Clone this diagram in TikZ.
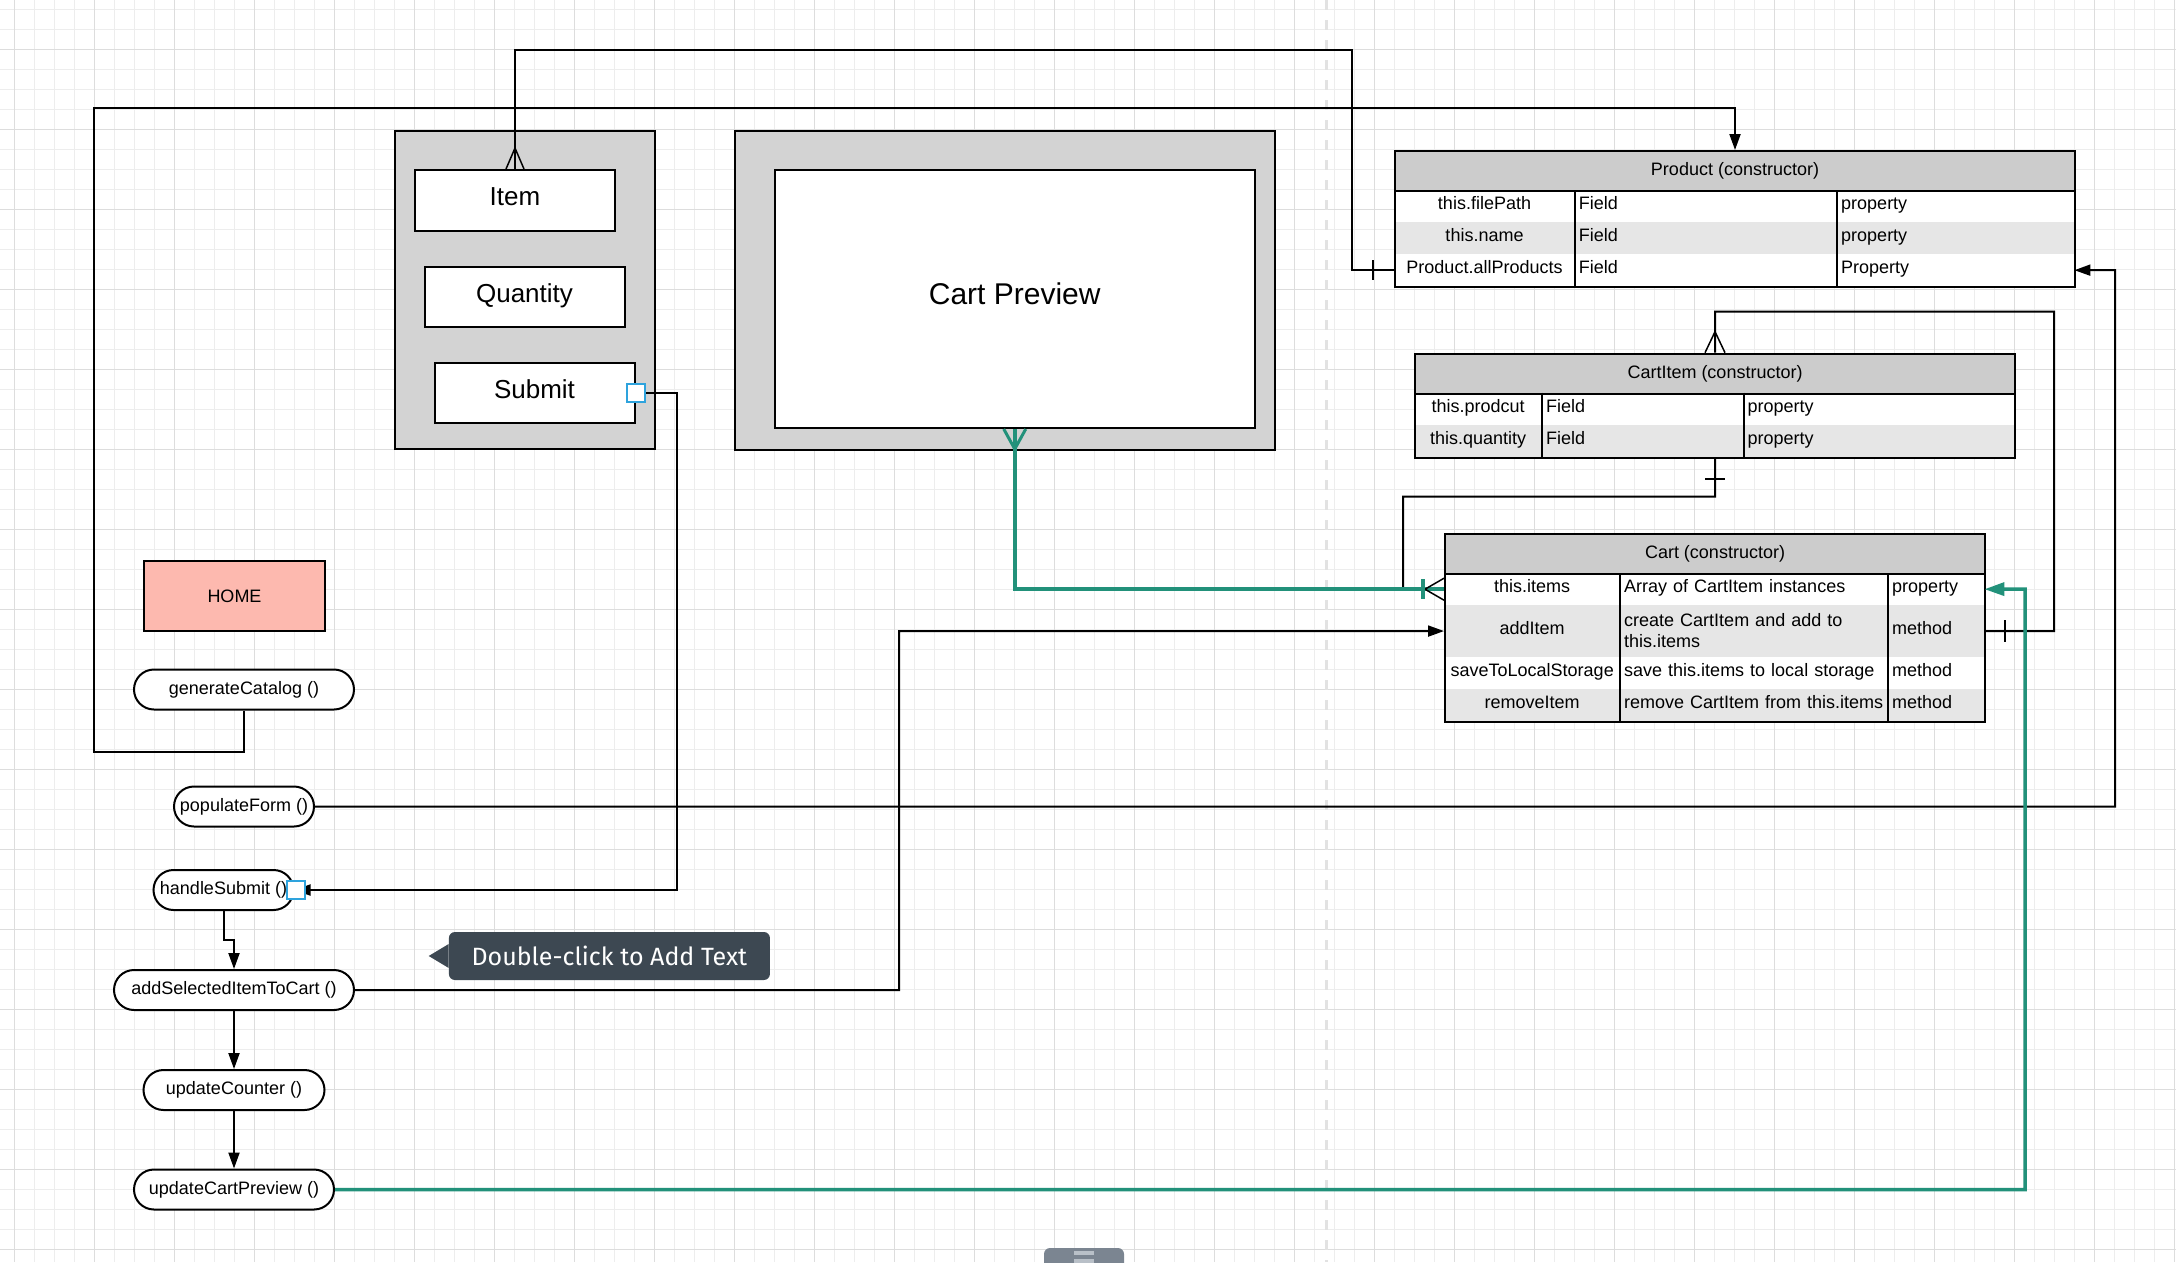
\documentclass[tikz,border=0pt]{standalone}
\usepackage{fontspec}
\setmainfont{Liberation Sans}
\newfontfamily\tipfont{Fira Sans}
\usepackage{tikz}
\usetikzlibrary{arrows.meta}

\definecolor{gridminor}{HTML}{EDEDED}
\definecolor{gridmajor}{HTML}{DDDDDD}
\definecolor{sepgray}{HTML}{E2E2E2}
\definecolor{panelgray}{HTML}{D3D3D3}
\definecolor{hdrgray}{HTML}{CCCCCC}
\definecolor{rowgray}{HTML}{E6E6E6}
\definecolor{homefill}{HTML}{FDB9AF}
\definecolor{linkgreen}{HTML}{22917A}
\definecolor{portblue}{HTML}{2EA3DD}
\definecolor{tipfill}{HTML}{3D4852}
\definecolor{tabgray}{HTML}{7B8591}
\definecolor{tabbar}{HTML}{B9C0C8}

\tikzset{
  panel/.style={draw, line width=2pt, fill=panelgray, anchor=north west, inner sep=0pt},
  field/.style={draw, line width=2pt, fill=white, anchor=north west, inner sep=0pt,
    text height=19pt, text depth=9pt, font=\fontsize{26}{31}\selectfont},
  func/.style={draw, line width=2pt, fill=white, rounded corners=20pt, minimum height=40pt,
    inner sep=0pt, font=\fontsize{18}{21}\selectfont},
  hdr/.style={draw, line width=2pt, fill=hdrgray, anchor=north west, minimum height=40pt,
    inner sep=0pt, font=\fontsize{18}{21}\selectfont},
  cellc/.style={anchor=north west, inner sep=0pt, minimum height=32pt, align=center,
    text height=13pt, text depth=5.5pt, font=\fontsize{18}{21}\selectfont},
  cellbase/.style={anchor=north west, inner xsep=4pt, inner ysep=0pt, minimum height=32pt,
    align=left, font=\fontsize{18}{21}\selectfont},
  celll/.style={cellbase, text height=13pt, text depth=5.5pt},
  body/.style={draw, line width=2pt, anchor=north west, inner sep=0pt},
  port/.style={draw=portblue, line width=2pt, fill=white, minimum size=18pt, inner sep=0pt},
  link/.style={line width=2pt},
  greenlink/.style={line width=3.5pt, draw=linkgreen},
  arr/.style={-{Triangle[length=16pt,width=11pt]}},
  garr/.style={-{Triangle[length=20pt,width=13pt]}},
  hint/.style={fill=tipfill, text=white, rounded corners=6pt, inner sep=0pt, anchor=west,
    font=\tipfont\fontsize{25}{30}\selectfont}
}

\begin{document}
\begin{tikzpicture}[x=1pt,y=-1pt]
  \useasboundingbox (0,0) rectangle (2176,1262);
  \fill[white] (0,0) rectangle (2176,1262);
  % grid
  \foreach \i in {0,...,108}
    \draw[gridminor, line width=1pt] (14.3+20*\i,0) -- (14.3+20*\i,1262);
  \foreach \i in {0,...,63}
    \draw[gridminor, line width=1pt] (0,9.3+20*\i) -- (2176,9.3+20*\i);
  \foreach \i in {0,...,27}
    \draw[gridmajor, line width=1.2pt] (14.3+80*\i,0) -- (14.3+80*\i,1262);
  \foreach \i in {0,...,15}
    \draw[gridmajor, line width=1.2pt] (0,49.3+80*\i) -- (2176,49.3+80*\i);
  \draw[sepgray, line width=3pt, dash pattern=on 10pt off 10pt] (1326,0) -- (1326,1262);

  % form and preview
  \node[panel, minimum width=260pt, minimum height=318pt] (form) at (394,130) {};
  \node[field, minimum width=200pt, minimum height=61pt] (item) at (414,169) {Item};
  \node[field, minimum width=200pt, minimum height=60pt] (qty) at (423.5,266) {Quantity};
  \node[field, minimum width=200pt, minimum height=60pt] (submit) at (433.5,362) {Submit};
  \node[panel, minimum width=540pt, minimum height=319pt] (cpouter) at (734,130) {};
  \node[field, minimum width=480.5pt, minimum height=258pt, text height=21.5pt, text depth=11pt,
    font=\fontsize{30}{36}\selectfont] (cpinner) at (773.5,169) {Cart Preview};

  % functions
  \node[draw, line width=2pt, fill=homefill, anchor=north west, minimum width=181pt,
    minimum height=70pt, font=\fontsize{18}{21}\selectfont] (home) at (143,560) {HOME};
  \node[func, minimum width=220pt] (gencat) at (244,689.5) {generateCatalog ()};
  \node[func, minimum width=140pt] (popform) at (244,806.5) {populateForm ()};
  \node[func, minimum width=140pt] (handle) at (223.5,890) {handleSubmit ()};
  \node[func, minimum width=240pt] (addsel) at (234,990) {addSelectedItemToCart ()};
  \node[func, minimum width=181pt] (upcount) at (234,1090) {updateCounter ()};
  \node[func, minimum width=200pt] (upcart) at (234,1189.5) {updateCartPreview ()};

  % Product table
  \node[hdr, minimum width=680pt] (prodhdr) at (1394,150) {Product (constructor)};
  \node[cellc, minimum width=180.6pt, fill=white] (pfile) at (1394,190) {this.filePath};
  \node[celll, text width=254.4pt, fill=white] (pfilef) at (1574.6,190) {Field};
  \node[celll, text width=229pt, fill=white] (pfilep) at (1837,190) {property};
  \node[cellc, minimum width=180.6pt, fill=rowgray] (pname) at (1394,222) {this.name};
  \node[celll, text width=254.4pt, fill=rowgray] (pnamef) at (1574.6,222) {Field};
  \node[celll, text width=229pt, fill=rowgray] (pnamep) at (1837,222) {property};
  \node[cellc, minimum width=180.6pt, fill=white] (pall) at (1394,254) {Product.allProducts};
  \node[celll, text width=254.4pt, fill=white] (pallf) at (1574.6,254) {Field};
  \node[celll, text width=229pt, fill=white] (pallp) at (1837,254) {Property};
  \node[body, minimum width=680pt, minimum height=96pt] (prodbody) at (1394,190) {};
  \draw[link] (pfilef.north west) -- (pallf.south west);
  \draw[link] (pfilep.north west) -- (pallp.south west);

  % CartItem table
  \node[hdr, minimum width=600pt] (cihdr) at (1414,352.7) {CartItem (constructor)};
  \node[cellc, minimum width=128pt, fill=white] (iprod) at (1414,392.7) {this.prodcut};
  \node[celll, text width=193.5pt, fill=white] (iprodf) at (1542,392.7) {Field};
  \node[celll, text width=262.5pt, fill=white] (iprodp) at (1743.5,392.7) {property};
  \node[cellc, minimum width=128pt, fill=rowgray] (iqty) at (1414,424.7) {this.quantity};
  \node[celll, text width=193.5pt, fill=rowgray] (iqtyf) at (1542,424.7) {Field};
  \node[celll, text width=262.5pt, fill=rowgray] (iqtyp) at (1743.5,424.7) {property};
  \node[body, minimum width=600pt, minimum height=64pt] (cibody) at (1414,392.7) {};
  \draw[link] (iprodf.north west) -- (iqtyf.south west);
  \draw[link] (iprodp.north west) -- (iqtyp.south west);

  % Cart table
  \node[hdr, minimum width=540pt] (carthdr) at (1444,533) {Cart (constructor)};
  \node[cellc, minimum width=176pt, fill=white] (citems) at (1444,573) {this.items};
  \node[celll, text width=260pt, fill=white] (citemsf) at (1620,573) {Array of CartItem instances};
  \node[celll, text width=88pt, fill=white] (citemsp) at (1888,573) {property};
  \node[cellc, minimum width=176pt, minimum height=51.7pt, fill=rowgray] (cadd) at (1444,605) {addItem};
  \node[cellbase, text width=260pt, minimum height=51.7pt, fill=rowgray] (caddf) at (1620,605)
    {create CartItem and add to\\this.items};
  \node[celll, text width=88pt, minimum height=51.7pt, fill=rowgray] (caddp) at (1888,605) {method};
  \node[cellc, minimum width=176pt, fill=white] (csave) at (1444,656.7) {saveToLocalStorage};
  \node[celll, text width=260pt, fill=white] (csavef) at (1620,656.7) {save this.items to local storage};
  \node[celll, text width=88pt, fill=white] (csavep) at (1888,656.7) {method};
  \node[cellc, minimum width=176pt, fill=rowgray] (crem) at (1444,688.7) {removeItem};
  \node[celll, text width=260pt, fill=rowgray] (cremf) at (1620,688.7) {remove CartItem from this.items};
  \node[celll, text width=88pt, fill=rowgray] (cremp) at (1888,688.7) {method};
  \node[body, minimum width=540pt, minimum height=147.7pt] (cartbody) at (1444,573) {};
  \draw[link] (citemsf.north west) -- (cremf.south west);
  \draw[link] (citemsp.north west) -- (cremp.south west);

  % connectors
  \draw[link] (item.north) |- (1352,50) |- (pall.west);
  \draw[link, line width=1.5pt] ([xshift=-9pt]item.north) -- ([yshift=21pt]item.north) -- ([xshift=9pt]item.north);
  \draw[link] ([xshift=-21pt,yshift=10pt]pall.west) -- ([xshift=-21pt,yshift=-10pt]pall.west);
  \draw[link, arr] (gencat.south) -- ++(0,41) -| (94,108) -| (prodhdr.north);
  \draw[link, arr] (popform.east) -| (2115,270) -- (pallp.east);
  \draw[link, arr] (submit.east) -- ++(41,0) |- (handle.east);
  \draw[link, arr] (handle.south) -- ++(0,29) -| (addsel.north);
  \draw[link, arr] (addsel.east) -| (899,631) -- (cadd.west);
  \draw[link, arr] (addsel.south) -- (upcount.north);
  \draw[link, arr] (upcount.south) -- (upcart.north);
  \draw[link] (cibody.south) -- ++(0,38) -| (1403,589) -- (citems.west);
  \draw[link] ([xshift=-10pt,yshift=-20pt]cibody.south) -- ([xshift=10pt,yshift=-20pt]cibody.south);
  \draw[link] (cihdr.north) -- ++(0,-41) -| (2054,631) -- (caddp.east);
  \draw[link, line width=1.5pt] ([xshift=-10pt]cihdr.north) -- ([yshift=21pt]cihdr.north) -- ([xshift=10pt]cihdr.north);
  \draw[link] ([xshift=21pt,yshift=11pt]caddp.east) -- ([xshift=21pt,yshift=-11pt]caddp.east);
  \draw[greenlink] (cpinner.south) |- (citems.west);
  \draw[greenlink, line width=3pt] ([xshift=-11pt]cpinner.south) -- ([yshift=-20pt]cpinner.south) -- ([xshift=11pt]cpinner.south);
  \draw[line width=1.5pt] ([yshift=11pt]citems.west) -- ([xshift=-19pt]citems.west) -- ([yshift=-11pt]citems.west);
  \draw[greenlink] ([xshift=-21pt,yshift=10pt]citems.west) -- ([xshift=-21pt,yshift=-10pt]citems.west);
  \draw[greenlink, garr] (upcart.east) -| (2025,589) -- (citemsp.east);

  % ports
  \node[port] (subport) at (submit.east) {};
  \node[port] (hsport) at ([xshift=1.5pt]handle.east) {};

  % hint bubble
  \node[hint, minimum width=321pt, minimum height=48pt] (hintbox) at (448.7,956) {Double-click to Add Text};
  \fill[tipfill] ([yshift=12pt]hintbox.west) -- ([xshift=-20pt]hintbox.west) -- ([yshift=-12pt]hintbox.west) -- cycle;

  % bottom tab
  \fill[tabgray, rounded corners=6pt] (1044,1248) rectangle (1124,1280);
  \fill[tabbar] (1074,1251) rectangle (1094,1255);
  \fill[tabbar] (1074,1259) rectangle (1094,1263);
\end{tikzpicture}
\end{document}
